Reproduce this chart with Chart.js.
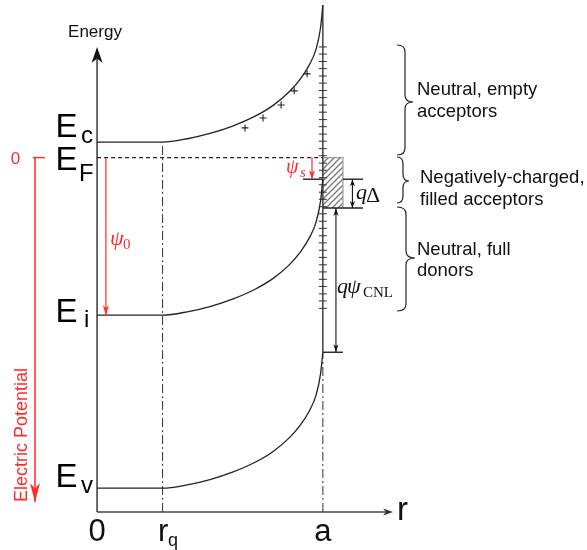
<!DOCTYPE html>
<html>
<head>
<meta charset="utf-8">
<script src="https://cdn.jsdelivr.net/npm/chart.js@4"></script>
<style>
  html, body { margin: 0; padding: 0; background: #fff; }
  #wrap { width: 587px; height: 550px; }
</style>
</head>
<body>
<div id="wrap"><canvas id="bandChart" width="587" height="550"></canvas></div>
<script>
// radial position (0 = centre, 1 = surface a) and band energies (eV)
const rPos   = [0, 0.29, 0.40, 0.50, 0.60, 0.70, 0.78, 0.85, 0.90, 0.94, 0.97, 0.99, 1.0];
const ecBand = [1.12, 1.12, 1.131, 1.148, 1.172, 1.204, 1.239, 1.282, 1.324, 1.37, 1.421, 1.491, 1.564];
const eiBand = [0.56, 0.56, 0.571, 0.588, 0.612, 0.644, 0.679, 0.722, 0.764, 0.81, 0.861, 0.93, 1.0];
const evBand = [0, 0, 0.011, 0.028, 0.052, 0.084, 0.119, 0.162, 0.204, 0.25, 0.301, 0.371, 0.44];

const rq = 0.29;
const rSurface = 1.0;
const levelEF = 1.07;
const levelSurfEi = 1.0;
const levelCNL = 0.907;
const levelSurfEv = 0.44;
const axisBottom = -0.077;

// surface trap states drawn as ticks on r = a
const trapLevels = [1.428, 1.405, 1.381, 1.358, 1.334, 1.311, 1.287, 1.264, 1.240, 1.217,
  1.193, 1.170, 1.146, 1.123, 1.099, 1.076, 1.052, 1.029, 1.005, 0.982, 0.958, 0.935,
  0.911, 0.888, 0.864, 0.841, 0.817, 0.794, 0.770, 0.747, 0.723, 0.700, 0.676, 0.653,
  0.629, 0.606, 0.582];

// positive charges near the surface
const plusR = [0.655, 0.735, 0.815, 0.873, 0.930];
const plusE = [1.166, 1.198, 1.240, 1.286, 1.341];

const tickLabels = ['0', 'r', 'a'];
const bandNames = ['c', 'F', 'i', 'v'];

const canvas = document.getElementById('bandChart');
const ctx = canvas.getContext('2d');

function makeHatch() {
  const c = document.createElement('canvas');
  c.width = 6; c.height = 6;
  const g = c.getContext('2d');
  g.fillStyle = '#fff';
  g.fillRect(0, 0, 6, 6);
  g.strokeStyle = '#7a7a7a';
  g.lineWidth = 1.4;
  g.beginPath();
  g.moveTo(0, 6); g.lineTo(6, 0);
  g.moveTo(-1, 1); g.lineTo(1, -1);
  g.moveTo(5, 7); g.lineTo(7, 5);
  g.stroke();
  return ctx.createPattern(c, 'repeat');
}

const pts = (xs, ys) => xs.map((x, i) => ({ x, y: ys[i] }));
const seg = (x1, y1, x2, y2) => [{ x: x1, y: y1 }, { x: x2, y: y2 }];
const boxRight = 1.089;
const markRight = 1.178;
const RED = '#ff2b2b';
const LINE = '#222';

function lineSet(data, extra) {
  return Object.assign({ data, showLine: true, borderColor: LINE, borderWidth: 1.3, pointRadius: 0, fill: false }, extra || {});
}

const datasets = [
  lineSet(pts(rPos, ecBand), { cubicInterpolationMode: 'monotone' }),
  lineSet(pts(rPos, eiBand), { cubicInterpolationMode: 'monotone' }),
  lineSet(pts(rPos, evBand), { cubicInterpolationMode: 'monotone' }),
  lineSet(seg(0, levelEF, rSurface, levelEF), { borderDash: [4, 3], borderWidth: 1.1 }),
  // axes
  lineSet(seg(0, axisBottom, 0, 1.40), { borderColor: '#444', borderWidth: 1.6 }),
  lineSet(seg(0, axisBottom, 1.28, axisBottom), { borderColor: '#444', borderWidth: 1.3 }),
  // r = a surface and r = rq guides
  lineSet(seg(rSurface, levelSurfEv, rSurface, ecBand[ecBand.length - 1]), { borderColor: '#333', borderWidth: 1.4 }),
  lineSet(seg(rSurface, axisBottom, rSurface, levelSurfEv), { borderColor: '#444', borderWidth: 1.1, borderDash: [9, 3, 2, 3] }),
  lineSet(seg(rq, axisBottom, rq, ecBand[1]), { borderColor: '#444', borderWidth: 1.1, borderDash: [9, 3, 2, 3] }),
  // level markers
  lineSet(seg(0.912, levelSurfEi, rSurface, levelSurfEi), { borderWidth: 1.4 }),
  lineSet(seg(boxRight, levelSurfEi, markRight, levelSurfEi), { borderWidth: 1.4 }),
  lineSet(seg(rSurface, levelCNL, markRight, levelCNL), { borderWidth: 1.4 }),
  lineSet(seg(rSurface, levelSurfEv, boxRight, levelSurfEv), { borderWidth: 1.4 }),
  lineSet(seg(-0.284, levelEF, -0.231, levelEF), { borderColor: RED, borderWidth: 1.4 }),
  // trap ticks and charges
  { data: trapLevels.map(y => ({ x: rSurface, y })), pointStyle: 'line', pointRadius: 4, borderColor: '#333', borderWidth: 1, showLine: false },
  { data: pts(plusR, plusE), pointStyle: 'cross', pointRadius: 3.5, borderColor: '#222', borderWidth: 1.1, showLine: false },
  // hatched box of filled acceptors
  lineSet([{ x: rSurface, y: levelEF }, { x: boxRight, y: levelEF }, { x: boxRight, y: levelCNL }], { borderColor: '#999', borderWidth: 1.2, order: 5 }),
  lineSet(seg(rSurface, levelEF, boxRight, levelEF), { borderColor: 'rgba(0,0,0,0)', order: 10 }),
  lineSet(seg(rSurface, levelCNL, boxRight, levelCNL), { borderColor: 'rgba(0,0,0,0)', fill: '-1', backgroundColor: makeHatch(), order: 10 })
];

function head(c, x, y, ang, len, wid, color) {
  c.save();
  c.translate(x, y);
  c.rotate(ang);
  c.fillStyle = color;
  c.beginPath();
  c.moveTo(0, 0);
  c.lineTo(-len, -wid / 2);
  c.lineTo(-len * 0.72, 0);
  c.lineTo(-len, wid / 2);
  c.closePath();
  c.fill();
  c.restore();
}

function arrow(c, x1, y1, x2, y2, o) {
  c.save();
  c.strokeStyle = o.color;
  c.lineWidth = o.width;
  c.beginPath();
  c.moveTo(x1, y1);
  c.lineTo(x2, y2);
  c.stroke();
  c.restore();
  const ang = Math.atan2(y2 - y1, x2 - x1);
  head(c, x2, y2, ang, o.len, o.wid, o.color);
  if (o.both) head(c, x1, y1, ang + Math.PI, o.len, o.wid, o.color);
}

function brace(c, x, yTop, yBot, yTip, w) {
  const sx = x + w * 0.5, tx = x + w, r = 7;
  c.beginPath();
  c.moveTo(x, yTop);
  c.quadraticCurveTo(sx, yTop, sx, yTop + r);
  c.lineTo(sx, yTip - r);
  c.quadraticCurveTo(sx, yTip, tx, yTip);
  c.quadraticCurveTo(sx, yTip, sx, yTip + r);
  c.lineTo(sx, yBot - r);
  c.quadraticCurveTo(sx, yBot, x, yBot);
  c.stroke();
}

function txt(c, s, x, y, font, color, align) {
  c.font = font;
  c.fillStyle = color || '#000';
  c.textAlign = align || 'left';
  c.textBaseline = 'alphabetic';
  c.fillText(s, x, y);
}

function bigE(c, sub, base, subX, subBase) {
  txt(c, 'E', 55.5, base, '33px "Liberation Sans", Arial, sans-serif');
  txt(c, sub, subX, subBase, '24px "Liberation Sans", Arial, sans-serif');
}

const annotations = {
  id: 'annotations',
  afterDatasetsDraw(chart) {
    const c = chart.ctx;
    const X = v => chart.scales.x.getPixelForValue(v);
    const Y = v => chart.scales.y.getPixelForValue(v);
    const sans = '"Liberation Sans", Arial, sans-serif';
    const serif = '"Liberation Serif", "DejaVu Serif", serif';

    // axis arrowheads
    head(c, X(0), Y(1.428), -Math.PI / 2, 16, 11, '#111');
    head(c, X(1.311), Y(axisBottom), 0, 10, 7, '#333');

    // electric potential axis
    arrow(c, X(-0.275), Y(levelEF), X(-0.275), Y(-0.045), { color: RED, width: 1.5, len: 19, wid: 10 });
    txt(c, '0', 15.5, Y(levelEF) + 6, '17px ' + sans, RED, 'center');
    c.save();
    c.translate(27, 435);
    c.rotate(-Math.PI / 2);
    txt(c, 'Electric Potential', 0, 0, '18px ' + sans, RED, 'center');
    c.restore();

    // potentials
    arrow(c, X(0.039), Y(levelEF), X(0.039), Y(eiBand[0]), { color: RED, width: 1.2, len: 10, wid: 6 });
    arrow(c, X(0.952), Y(levelEF), X(0.952), Y(levelSurfEi), { color: RED, width: 1.2, len: 9, wid: 6 });
    arrow(c, X(1.131), Y(levelSurfEi), X(1.131), Y(levelCNL), { color: '#111', width: 1.1, len: 7, wid: 5, both: true });
    arrow(c, X(1.058), Y(levelCNL), X(1.058), Y(levelSurfEv), { color: '#111', width: 1.1, len: 8, wid: 5, both: true });

    txt(c, 'ψ', 110, 245, 'italic 22px ' + serif, RED);
    txt(c, '0', 123, 249, '15px ' + serif, RED);
    txt(c, 'ψ', 286, 173, 'italic 20px ' + serif, RED);
    txt(c, 's', 300, 177, 'italic 15px ' + serif, RED);
    txt(c, 'q', 356, 199, 'italic 22px ' + serif, '#111');
    txt(c, 'Δ', 366, 202, '22px ' + serif, '#111');
    txt(c, 'q', 337, 293, 'italic 22px ' + serif, '#111');
    txt(c, 'ψ', 347, 293, 'italic 22px ' + serif, '#111');
    txt(c, 'CNL', 363, 297, '15px ' + serif, '#111');

    // band labels
    bigE(c, bandNames[0], 137, 81, 143);
    bigE(c, bandNames[1], 170, 79, 181);
    bigE(c, bandNames[2], 322, 84, 327);
    bigE(c, bandNames[3], 487, 81, 493);

    // axis labels
    txt(c, 'Energy', 95, 37, '17px ' + sans, '#111', 'center');
    txt(c, tickLabels[0], X(0), 541, '31px ' + sans, '#111', 'center');
    txt(c, tickLabels[1], 158, 541, '31px ' + sans, '#111');
    txt(c, 'q', 168, 546, '18px ' + sans, '#111');
    txt(c, tickLabels[2], X(rSurface), 541, '31px ' + sans, '#111', 'center');
    txt(c, 'r', 397, 520, '33px ' + sans, '#111');

    // braces and region notes
    c.save();
    c.strokeStyle = '#222';
    c.lineWidth = 1.2;
    brace(c, 397, 45, 155, 102, 16);
    brace(c, 397, 157, 203, 181, 12);
    brace(c, 397, 207, 311, 258, 18);
    c.restore();
    const f = '18.5px ' + sans;
    txt(c, 'Neutral, empty', 417, 95, f, '#111');
    txt(c, 'acceptors', 417, 117, f, '#111');
    txt(c, 'Negatively-charged,', 420, 183, f, '#111');
    txt(c, 'filled acceptors', 420, 205, f, '#111');
    txt(c, 'Neutral, full', 417, 255, f, '#111');
    txt(c, 'donors', 417, 276, f, '#111');
  }
};

new Chart(ctx, {
  type: 'scatter',
  data: { datasets },
  options: {
    responsive: false,
    animation: false,
    layout: { padding: 0, autoPadding: false },
    events: [],
    scales: {
      x: { type: 'linear', display: false, min: -0.43, max: 2.17 },
      y: { type: 'linear', display: false, min: -0.2, max: 1.58 }
    },
    plugins: { legend: { display: false }, tooltip: { enabled: false } }
  },
  plugins: [annotations]
});
</script>
</body>
</html>
